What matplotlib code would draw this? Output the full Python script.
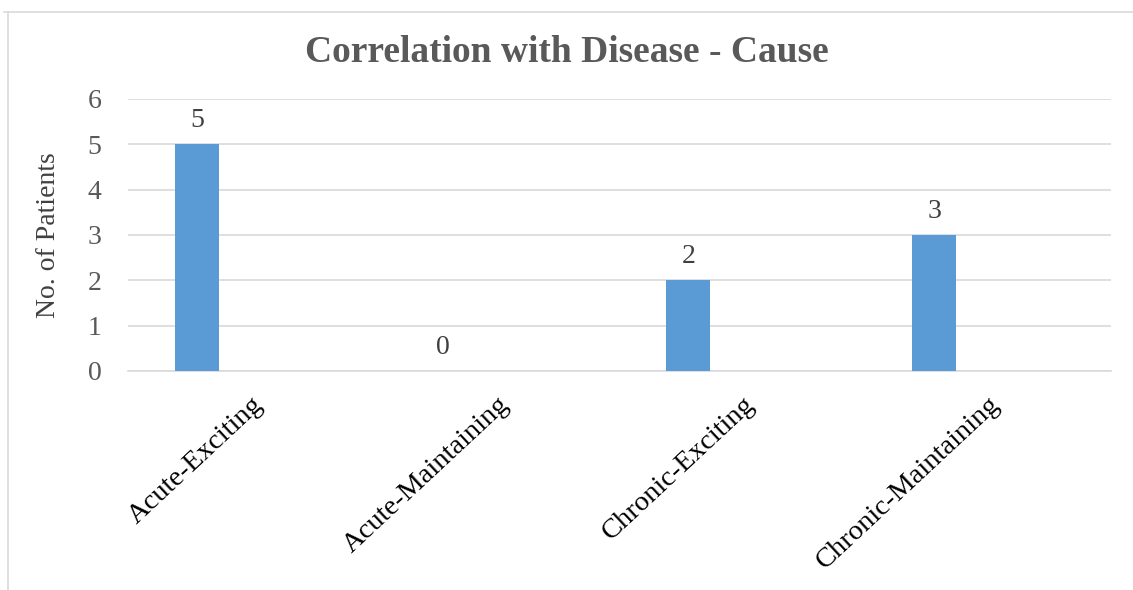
import matplotlib.pyplot as plt
from matplotlib.lines import Line2D
import numpy as np

categories = ['Acute-Exciting', 'Acute-Maintaining', 'Chronic-Exciting', 'Chronic-Maintaining']
patients = [5, 0, 2, 3]
y_ticks = [0, 1, 2, 3, 4, 5, 6]

plt.rcParams['font.family'] = ['Liberation Serif', 'DejaVu Serif']

fig = plt.figure(figsize=(11.33, 5.9), dpi=100)
ax = fig.add_axes([128 / 1133, 1 - 371 / 590, (1111 - 128) / 1133, (371 - 99) / 590])

x = np.arange(len(categories))
bar_offset = -0.22
bars = ax.bar(x + bar_offset, patients, width=0.18, color='#5B9BD5', zorder=3)

for b, v in zip(bars, patients):
    ax.annotate(str(v), (b.get_x() + b.get_width() / 2, v), xytext=(0, 8),
                textcoords='offset points', ha='center', va='bottom',
                fontsize=20, color='#404040')

ax.set_xlim(-0.5, len(categories) - 0.5)
ax.set_ylim(0, 6)
ax.set_yticks(y_ticks)
ax.grid(axis='y', color='#d9d9d9', linewidth=1.2, zorder=0)
ax.set_axisbelow(True)
for s in ['top', 'right', 'left']:
    ax.spines[s].set_visible(False)
ax.spines['bottom'].set_color('#d9d9d9')
ax.spines['bottom'].set_linewidth(1.2)
ax.tick_params(axis='both', length=0)
ax.tick_params(axis='y', labelsize=20, labelcolor='#595959', pad=19)

ax.set_xticks(x)
ax.set_xticklabels(categories, rotation=43, ha='right', va='top',
                   rotation_mode='anchor', fontsize=20.5, color='#000000')
ax.tick_params(axis='x', pad=15)

ax.set_ylabel('No. of Patients', fontsize=20, color='#404040')
ax.yaxis.set_label_coords(-0.068, 0.5)

fig.text(0.5, 1 - 52 / 590, 'Correlation with Disease - Cause', ha='center', va='center',
         fontsize=27, fontweight='bold', color='#595959')

# chart frame (top and left edges visible)
fig.add_artist(Line2D([4 / 1133, 1], [1 - 12 / 590, 1 - 12 / 590], color='#d9d9d9', linewidth=1.2))
fig.add_artist(Line2D([8 / 1133, 8 / 1133], [0, 1 - 12 / 590], color='#d9d9d9', linewidth=1.2))

fig.savefig('out.png', dpi=100)
